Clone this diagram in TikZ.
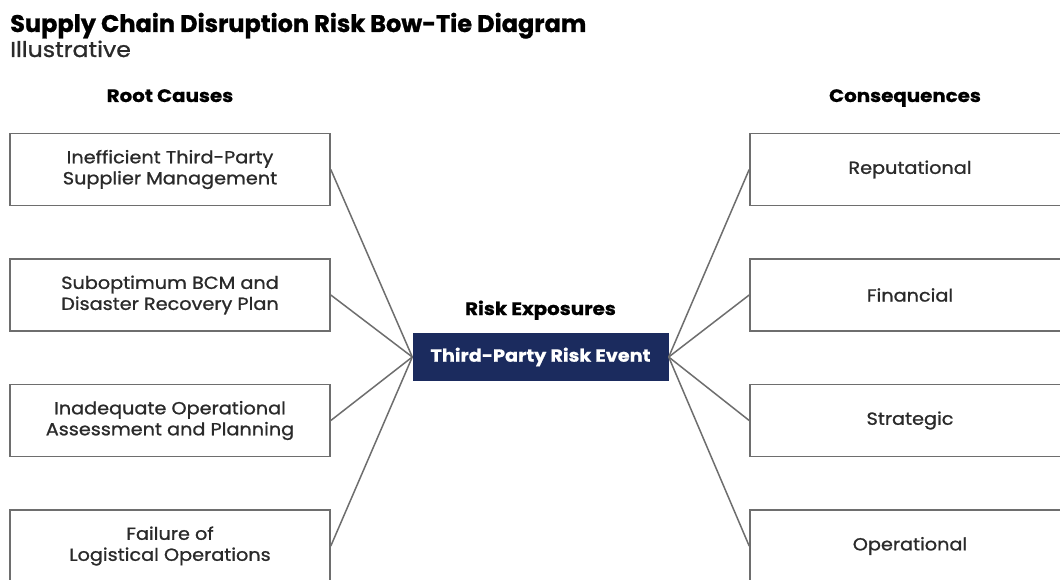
\documentclass[tikz,border=0pt]{standalone}
\usepackage{fontspec}
\setmainfont{Poppins}
\newfontfamily\boxfont[FakeBold=1.0,FakeStretch=1.1]{Poppins}
\newfontfamily\widefont[FakeBold=0.8,FakeStretch=1.1]{Poppins}
\newfontfamily\titlefont[FakeBold=1.0]{Poppins}
\definecolor{navy}{HTML}{1B2B5E}
\definecolor{edgegray}{HTML}{6E6E6E}
\definecolor{ink}{HTML}{2A2A2A}
\begin{document}
\begin{tikzpicture}[x=1pt,y=-1pt,
  causebox/.style={draw=edgegray, line width=1.6pt, fill=white, minimum width=320pt,
    minimum height=72pt, align=center, text=ink, inner sep=0pt,
    font=\boxfont\fontsize{17.5}{21}\selectfont},
  eventbox/.style={fill=navy, minimum width=256pt, minimum height=48pt, inner sep=0pt,
    text=white, font=\widefont\bfseries\fontsize{17.5}{20}\selectfont},
  heading/.style={anchor=base, text=black, inner sep=0pt,
    font=\widefont\bfseries\fontsize{18}{20}\selectfont},
  link/.style={draw=edgegray, line width=1.5pt}]
  \useasboundingbox (0,0) rectangle (1060,580);
  \clip (0,0) rectangle (1060,580);
  \fill[white] (0,0) rectangle (1060,580);

  % title block
  \node[anchor=base west, inner sep=0pt, text=black, font=\titlefont\bfseries\fontsize{24}{28}\selectfont] (title) at (10,32)
    {Supply Chain Disruption Risk Bow-Tie Diagram};
  \node[anchor=base west, inner sep=0pt, text=ink, font=\boxfont\fontsize{21.5}{26}\selectfont] (subtitle) at (10,57)
    {Illustrative};

  % column headings
  \node[heading] (hcause) at (170,102) {Root Causes};
  \node[heading] (hcons) at (905,102) {Consequences};
  \node[heading] (hexp) at (540.5,315) {Risk Exposures};

  % central event
  \node[eventbox] (event) at (540.5,357) {Third-Party Risk Event};

  % root causes
  \node[causebox] (c1) at (170,169.5) {Inefficient Third-Party\\Supplier Management};
  \node[causebox] (c2) at (170,295) {Suboptimum BCM and\\Disaster Recovery Plan};
  \node[causebox] (c3) at (170,420.5) {Inadequate Operational\\Assessment and Planning};
  \node[causebox] (c4) at (170,546) {Failure of\\Logistical Operations};

  % consequences
  \node[causebox] (r1) at (910,169.5) {Reputational};
  \node[causebox] (r2) at (910,295) {Financial};
  \node[causebox] (r3) at (910,420.5) {Strategic};
  \node[causebox] (r4) at (910,546) {Operational};

  % connectors
  \foreach \n in {c1,c2,c3,c4} \draw[link] (\n.east) -- (event.west);
  \foreach \n in {r1,r2,r3,r4} \draw[link] (event.east) -- (\n.west);
\end{tikzpicture}
\end{document}
